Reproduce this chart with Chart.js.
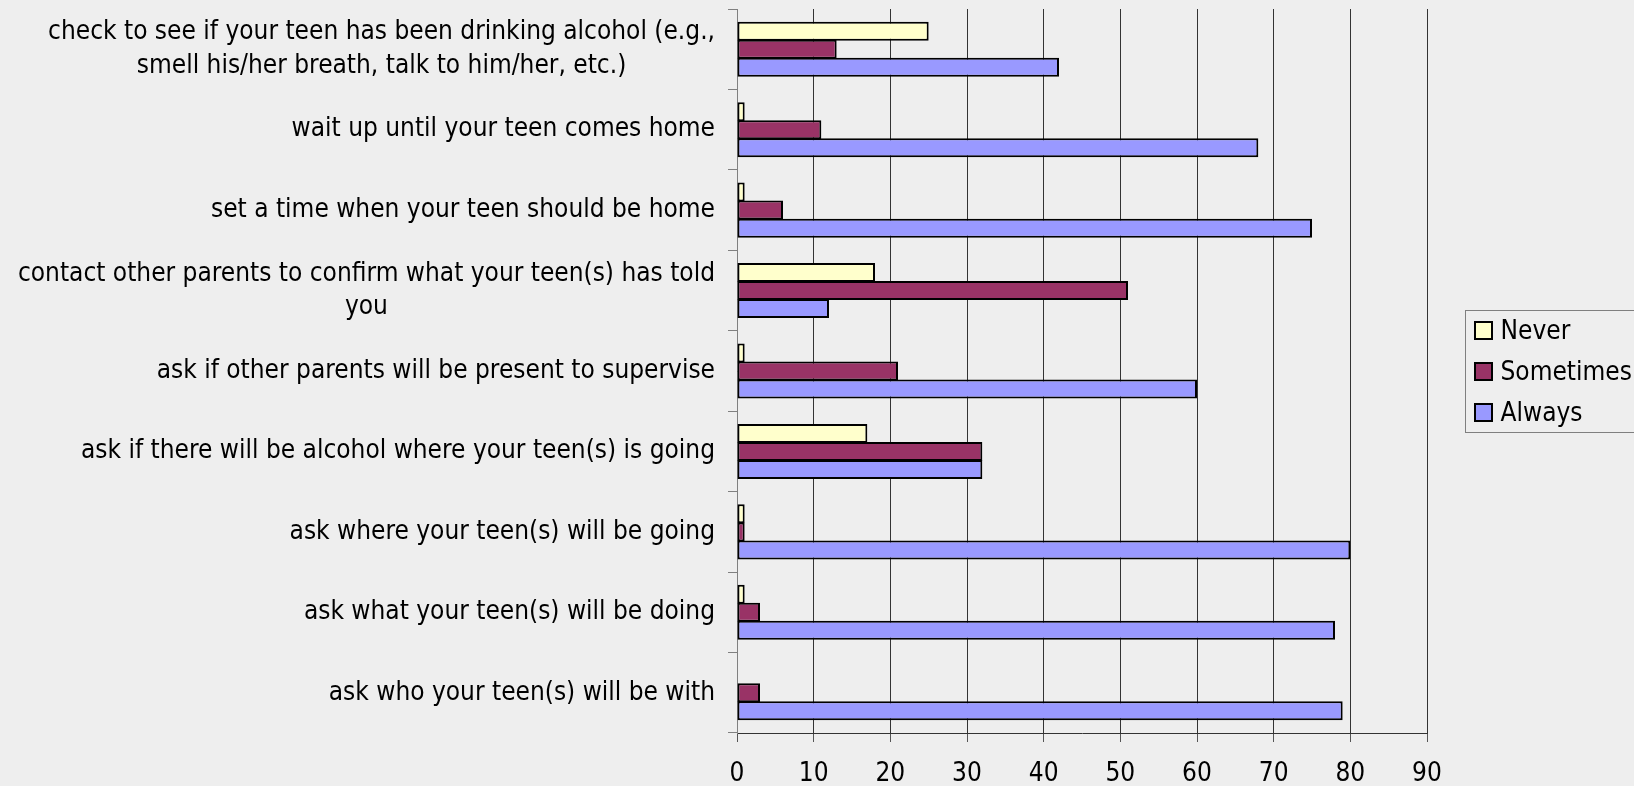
<!DOCTYPE html>
<html>
<head>
<meta charset="utf-8">
<script src="https://cdn.jsdelivr.net/npm/chart.js@4.4.1/dist/chart.umd.min.js"></script>
<style>
  html, body { margin: 0; padding: 0; background: #eeeeee; overflow: hidden; }
  canvas { display: block; }
</style>
</head>
<body>
<canvas id="graph" width="1634" height="786"></canvas>
<script>
// survey questions, top to bottom (arrays = wrapped lines)
const questions = [
  ["check to see if your teen has been drinking alcohol (e.g.,", "smell his/her breath, talk to him/her, etc.)"],
  "wait up until your teen comes home",
  "set a time when your teen should be home",
  ["contact other parents to confirm what your teen(s) has told", "you"],
  "ask if other parents will be present to supervise",
  "ask if there will be alcohol where your teen(s) is going",
  "ask where your teen(s) will be going",
  "ask what your teen(s) will be doing",
  "ask who your teen(s) will be with",
];
const never = [25, 1, 1, 18, 1, 17, 1, 1, 0];
const sometimes = [13, 11, 6, 51, 21, 32, 1, 3, 3];
const always = [42, 68, 75, 12, 60, 32, 80, 78, 79];
const xTicks = { min: 0, max: 90, step: 10 };

const FONT = "'DejaVu Sans Condensed', 'DejaVu Sans', sans-serif";
Chart.defaults.font.family = FONT;
Chart.defaults.font.size = 26;
Chart.defaults.color = "#000";

const makeSet = (label, data, color) => ({
  label: label,
  data: data,
  backgroundColor: color,
  borderColor: "#000",
  borderWidth: 2,
  borderSkipped: false,
  categoryPercentage: 0.672,
  barPercentage: 1.055,
});

// y labels: block right aligned, wrapped lines centred on each other
const questionLabels = {
  id: "questionLabels",
  afterDraw(chart) {
    const { ctx } = chart;
    const y = chart.scales.y;
    ctx.save();
    ctx.font = "26px " + FONT;
    ctx.fillStyle = "#000";
    ctx.textAlign = "center";
    ctx.textBaseline = "middle";
    questions.forEach((q, i) => {
      const lines = Array.isArray(q) ? q : [q];
      const w = Math.max(...lines.map((l) => ctx.measureText(l).width));
      const cx = y.right - 22 - w / 2;
      const cy = y.getPixelForValue(i);
      lines.forEach((l, j) => {
        ctx.fillText(l, cx, cy + (j - (lines.length - 1) / 2) * 33.4);
      });
    });
    ctx.restore();
  },
};

// boxed legend to the right of the plot
const boxLegend = {
  id: "boxLegend",
  afterDraw(chart) {
    const { ctx, chartArea } = chart;
    const mid = (chartArea.top + chartArea.bottom) / 2;
    const left = Math.round(chartArea.right + 38) + 0.5;
    const top = Math.round(mid - 61) + 0.5;
    ctx.save();
    ctx.strokeStyle = "#7f7f7f";
    ctx.lineWidth = 1;
    ctx.strokeRect(left, top, 200, 122);
    ctx.font = "26px " + FONT;
    ctx.textBaseline = "middle";
    ctx.textAlign = "left";
    chart.data.datasets.forEach((ds, i) => {
      const sy = Math.round(mid - 50 + i * 41.2);
      const sx = left + 8.5;
      ctx.fillStyle = "#000";
      ctx.fillRect(sx, sy, 19, 19);
      ctx.fillStyle = ds.backgroundColor;
      ctx.fillRect(sx + 2, sy + 2, 15, 15);
      ctx.fillStyle = "#000";
      ctx.fillText(ds.label, left + 35, sy + 11);
    });
    ctx.restore();
  },
};

const graph = new Chart(document.getElementById("graph"), {
  type: "bar",
  data: {
    labels: questions,
    datasets: [
      makeSet("Never", never, "#ffffcc"),
      makeSet("Sometimes", sometimes, "#993366"),
      makeSet("Always", always, "#9999ff"),
    ],
  },
  options: {
    indexAxis: "y",
    responsive: false,
    animation: false,
    layout: {
      padding: { top: 9, right: 207, bottom: 0, left: 0 },
    },
    plugins: {
      legend: { display: false },
      tooltip: { enabled: false },
    },
    scales: {
      x: {
        min: xTicks.min,
        max: xTicks.max,
        ticks: { stepSize: xTicks.step, padding: 17 },
        grid: { color: "#333", tickLength: 9, tickColor: "#555" },
        border: { color: "#333" },
        afterFit(scale) {
          scale.height = 53;
        },
      },
      y: {
        ticks: { display: false },
        grid: {
          drawOnChartArea: false,
          offset: true,
          tickLength: 9,
          color: "#808080",
        },
        border: { color: "#808080" },
        afterFit(scale) {
          scale.width = 737;
        },
      },
    },
  },
  plugins: [questionLabels, boxLegend],
});
</script>
</body>
</html>
